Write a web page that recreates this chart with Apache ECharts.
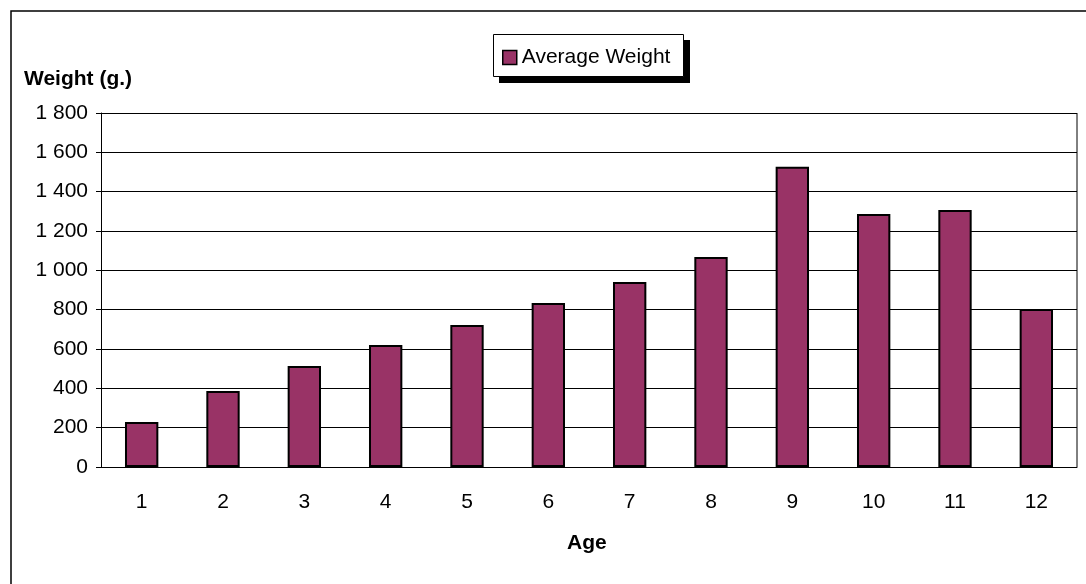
<!DOCTYPE html>
<html>
<head>
<meta charset="utf-8">
<script src="https://cdn.jsdelivr.net/npm/echarts@6/dist/echarts.min.js"></script>
<style>
  html, body { margin: 0; padding: 0; background: #fff; }
  #chart { width: 1086px; height: 584px; }
</style>
</head>
<body>
<div id="chart"></div>
<script>
const ages = ['1', '2', '3', '4', '5', '6', '7', '8', '9', '10', '11', '12']
const avgWeight = [229, 386, 513, 620, 722, 834, 941, 1068, 1527, 1286, 1307, 803]
const yTicks = [0, 200, 400, 600, 800, 1000, 1200, 1400, 1600, 1800]

const chart = echarts.init(document.getElementById('chart'))
const font = 'Liberation Sans, Arial, sans-serif'

// thousands separated by a space, e.g. "1 800"
const fmt = (v) => String(v).replace(/\B(?=(\d{3})+(?!\d))/g, ' ')

chart.setOption({
  animation: false,
  textStyle: { fontFamily: font },
  graphic: [
    // outer chart frame (runs off the right / bottom edge)
    { type: 'rect', shape: { x: 11, y: 11, width: 1090, height: 600 },
      style: { fill: null, stroke: '#000', lineWidth: 1.5 }, z: -1 },
    // legend box with its hard drop shadow
    { type: 'rect', shape: { x: 499, y: 40, width: 191, height: 43 },
      style: { fill: '#000' }, z: 0 },
    { type: 'rect', shape: { x: 493.5, y: 34.5, width: 190, height: 42 },
      style: { fill: '#fff', stroke: '#000', lineWidth: 1 }, z: 1 },
    { type: 'text', left: 24, top: 69,
      style: { text: 'Weight (g.)', font: 'bold 21px ' + font, fill: '#000' } },
    { type: 'text', left: 567, top: 533,
      style: { text: 'Age', font: 'bold 21px ' + font, fill: '#000' } },
    // right edge of the plot area
    { type: 'line', shape: { x1: 1077, y1: 113, x2: 1077, y2: 467 },
      style: { stroke: '#000', lineWidth: 1 } }
  ],
  legend: {
    data: ['Average Weight'],
    left: 502, top: 47,
    padding: 0,
    itemWidth: 14, itemHeight: 14,
    z: 5,
    textStyle: { fontSize: 21, color: '#000', fontFamily: font },
    icon: 'rect',
    itemStyle: { borderColor: '#000', borderWidth: 1.5 }
  },
  grid: { left: 101, right: 9, top: 113, height: 354, containLabel: false },
  xAxis: {
    type: 'category',
    data: ages,
    axisLine: { lineStyle: { color: '#000', width: 1 } },
    axisTick: { show: false },
    axisLabel: { color: '#000', fontSize: 21, margin: 25 }
  },
  yAxis: {
    type: 'value',
    min: yTicks[0], max: yTicks[yTicks.length - 1], interval: 200,
    axisLine: { show: true, lineStyle: { color: '#000', width: 1 } },
    axisTick: { show: true, length: 5, lineStyle: { color: '#000' } },
    axisLabel: { color: '#000', fontSize: 21, margin: 13, formatter: fmt, padding: [5, 0, 0, 0] },
    splitLine: { show: true, lineStyle: { color: '#000', width: 1 } }
  },
  series: [{
    name: 'Average Weight',
    type: 'bar',
    data: avgWeight,
    barCategoryGap: '59%',
    itemStyle: { color: '#993366', borderColor: '#000', borderWidth: 2 }
  }]
})
</script>
</body>
</html>
